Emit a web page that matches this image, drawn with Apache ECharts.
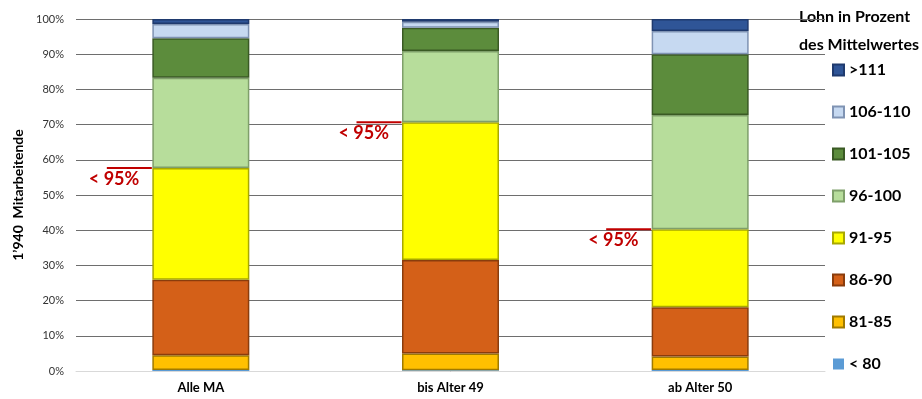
<!DOCTYPE html>
<html>
<head>
<meta charset="utf-8">
<script src="https://cdn.jsdelivr.net/npm/echarts@6/dist/echarts.min.js"></script>
<style>
  html, body { margin: 0; padding: 0; background: #fff; }
  #chart { width: 922px; height: 399px; }
</style>
</head>
<body>
<div id="chart"></div>
<script>
// Gruppen
const categories = ['Alle MA', 'bis Alter 49', 'ab Alter 50'];

// Anteil Mitarbeitende je Lohnklasse (in % der Gruppe)
const lt80    = [0.3, 0.2, 0.3];
const s81_85  = [4.2, 4.8, 3.8];
const s86_90  = [21.4, 26.5, 14.0];
const s91_95  = [31.8, 39.2, 22.2];
const s96_100 = [25.6, 20.2, 32.4];
const s101_105 = [11.2, 6.6, 17.3];
const s106_110 = [4.1, 1.7, 6.6];
const gt111   = [1.4, 0.8, 3.4];

const seriesNames = ['< 80', '81-85', '86-90', '91-95', '96-100', '101-105', '106-110', '>111'];
const seriesValues = [lt80, s81_85, s86_90, s91_95, s96_100, s101_105, s106_110, gt111];

const yTicks = [0, 10, 20, 30, 40, 50, 60, 70, 80, 90, 100];
const markText = '< 95%';

const fills = ['#5B9BD5', '#FFC000', '#D46018', '#FFFF00', '#B7DD9B', '#5C8C3C', '#C6D9F1', '#2F5597'];
const borders = ['#5B9BD5', '#A07A00', '#8A3C0C', '#A8A800', '#7F9F6A', '#3A5A24', '#7F93B3', '#1F3A6E'];

const FONT = 'Lato, "Open Sans", sans-serif';

const chart = echarts.init(document.getElementById('chart'));

const series = seriesNames.map((name, i) => ({
  name: name,
  type: 'bar',
  stack: 'total',
  barWidth: 97,
  data: seriesValues[i],
  itemStyle: {
    color: fills[i],
    borderColor: borders[i],
    borderWidth: i === 0 ? 0 : 1.5
  },
  emphasis: { disabled: true }
}));

chart.setOption({
  animation: false,
  grid: { left: 76, right: 97, top: 19, bottom: 28 },
  xAxis: {
    type: 'category',
    data: categories,
    axisLine: { show: true, lineStyle: { color: '#D9D9D9' } },
    axisTick: { show: false },
    axisLabel: { color: '#000', fontFamily: FONT, fontWeight: 'bold', fontSize: 13, margin: 10 }
  },
  yAxis: {
    type: 'value',
    min: yTicks[0],
    max: yTicks[yTicks.length - 1],
    interval: 10,
    name: '1’940  Mitarbeitende',
    nameLocation: 'middle',
    nameGap: 44,
    nameRotate: 90,
    nameTextStyle: { color: '#000', fontFamily: FONT, fontWeight: 'bold', fontSize: 14 },
    axisLine: { show: false },
    axisTick: { show: false },
    axisLabel: { color: '#333', fontFamily: FONT, fontSize: 11, margin: 12, formatter: v => v + '%' },
    splitLine: { show: true, lineStyle: { color: '#6E6E6E', width: 1 } }
  },
  legend: {
    orient: 'vertical',
    right: 'auto',
    left: 827,
    top: 57,
    itemGap: 26,
    itemWidth: 11,
    itemHeight: 11,
    icon: 'rect',
    data: seriesNames.slice().reverse(),
    textStyle: { color: '#000', fontFamily: FONT, fontWeight: 'bold', fontSize: 16, padding: [0, 0, 0, 0] },
    selectedMode: false
  },
  graphic: [
    {
      type: 'text', right: 3, top: 3,
      style: {
        text: 'Lohn in Prozent\ndes Mittelwertes',
        align: 'right',
        fill: '#000',
        font: 'bold 16px ' + FONT,
        lineHeight: 28
      }
    }
  ],
  series: series
});

// Markierung "< 95%" an der Obergrenze der Klasse 91-95 je Gruppe
const marks = [];
categories.forEach((c, i) => {
  const cum = lt80[i] + s81_85[i] + s86_90[i] + s91_95[i];
  const x = chart.convertToPixel({ xAxisIndex: 0 }, i);
  const y = chart.convertToPixel({ yAxisIndex: 0 }, cum);
  marks.push({
    type: 'line',
    shape: { x1: x - 94, y1: y, x2: x - 49, y2: y },
    style: { stroke: '#C00000', lineWidth: 2 },
    z: 20
  });
  marks.push({
    type: 'text',
    x: x - 112, y: y + 2,
    style: { text: markText, fill: '#C00000', font: 'bold 18px ' + FONT, align: 'left', verticalAlign: 'top' },
    z: 20
  });
});
chart.setOption({ graphic: chart.getOption().graphic[0].elements.concat(marks) });
</script>
</body>
</html>
